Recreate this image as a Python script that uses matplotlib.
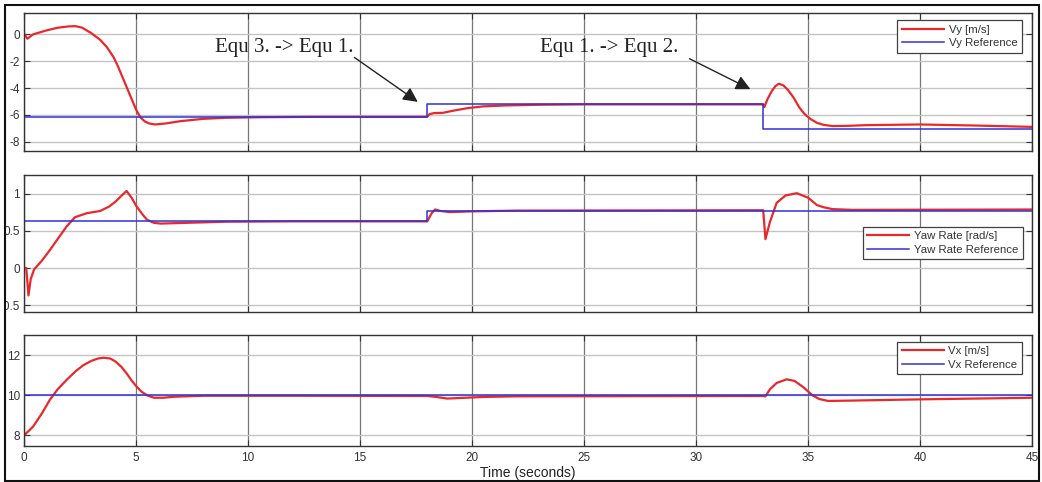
import matplotlib
matplotlib.use("Agg")
import matplotlib.pyplot as plt
from matplotlib.patches import Rectangle
from matplotlib.transforms import Bbox, TransformedBbox

plt.rcParams['font.family'] = ['Liberation Sans', 'DejaVu Sans']
plt.rcParams['axes.unicode_minus'] = False

# values
vy_t = [0, 0.15, 0.4, 1.0, 1.5, 2.0, 2.3, 2.6, 3.0, 3.4, 3.7, 4.0, 4.2, 4.4, 4.6, 4.8, 5.0, 5.2,
        5.4, 5.6, 5.85, 6.3, 7.0, 8.0, 9.0, 10.5, 13, 18.0, 18.1, 18.3, 18.7, 19.2, 19.8, 20.5,
        21.5, 23, 25, 33.0, 33.05, 33.2, 33.4, 33.55, 33.7, 33.9, 34.1, 34.35, 34.6, 34.85, 35.1,
        35.4, 35.7, 36.1, 36.8, 37.6, 40, 42.5, 45]
vy = [0.05, -0.32, 0.0, 0.3, 0.5, 0.6, 0.62, 0.5, 0.1, -0.4, -0.95, -1.7, -2.4, -3.2, -4.0, -4.8,
      -5.6, -6.2, -6.5, -6.65, -6.72, -6.65, -6.47, -6.3, -6.22, -6.18, -6.15, -6.15, -5.95, -5.87,
      -5.85, -5.68, -5.5, -5.37, -5.3, -5.25, -5.22, -5.22, -5.42, -4.8, -4.18, -3.85, -3.68, -3.8,
      -4.13, -4.7, -5.42, -5.95, -6.3, -6.6, -6.75, -6.84, -6.82, -6.77, -6.72, -6.8, -6.9]
vy_ref_t = [0, 18, 33, 45]
vy_ref = [-6.15, -5.22, -7.09, -7.09]

yaw_t = [0, 0.1, 0.2, 0.3, 0.45, 0.8, 1.15, 1.5, 1.9, 2.27, 2.8, 3.4, 3.8, 4.1, 4.4, 4.58, 4.8,
         5.03, 5.3, 5.5, 5.8, 6.1, 7.25, 9, 12, 18.0, 18.2, 18.35, 18.6, 19.0, 20, 22, 33.0, 33.1,
         33.3, 33.6, 34.0, 34.5, 35.0, 35.4, 35.7, 36.1, 37, 45]
yaw = [0.0, 0.0, -0.37, -0.15, -0.02, 0.1, 0.24, 0.39, 0.56, 0.685, 0.74, 0.77, 0.83, 0.9, 0.99,
       1.04, 0.95, 0.83, 0.72, 0.65, 0.61, 0.60, 0.61, 0.625, 0.63, 0.63, 0.74, 0.79, 0.77, 0.755,
       0.765, 0.775, 0.78, 0.39, 0.62, 0.88, 0.98, 1.01, 0.95, 0.85, 0.82, 0.795, 0.785, 0.79]
yaw_ref_t = [0, 18, 45]
yaw_ref = [0.63, 0.775, 0.775]

vx_t = [0, 0.4, 0.8, 1.15, 1.5, 1.9, 2.3, 2.64, 3.0, 3.3, 3.55, 3.85, 4.1, 4.35, 4.58, 4.8, 5.03,
        5.25, 5.5, 5.8, 6.2, 6.7, 8, 12, 18.0, 18.4, 18.9, 19.5, 20.5, 22, 33.0, 33.1, 33.3, 33.6,
        34.05, 34.4, 34.8, 35.2, 35.5, 35.9, 37, 40, 45]
vx = [8.0, 8.43, 9.1, 9.77, 10.3, 10.77, 11.2, 11.5, 11.72, 11.84, 11.88, 11.84, 11.68, 11.42,
      11.1, 10.75, 10.43, 10.18, 10.0, 9.88, 9.88, 9.93, 9.98, 9.98, 9.97, 9.92, 9.84, 9.87, 9.92,
      9.95, 9.97, 9.95, 10.3, 10.62, 10.8, 10.72, 10.4, 10.0, 9.82, 9.72, 9.74, 9.8, 9.88]
vx_ref_t = [0, 45]
vx_ref = [10, 10]

x_ticks = [0, 5, 10, 15, 20, 25, 30, 35, 40, 45]
vy_ticks = [-8, -6, -4, -2, 0]
yaw_ticks = [-0.5, 0, 0.5, 1]
yaw_tick_labels = ['-0.5', '0', '0.5', '1']
vx_ticks = [8, 10, 12]

RED = '#e8282c'
BLUE = '#3030d8'
W, H = 1042, 482

fig = plt.figure(figsize=(W / 100, H / 100), dpi=100)

def px_axes(left, top, right, bottom):
    return fig.add_axes([left / W, 1 - bottom / H, (right - left) / W, (bottom - top) / H])

ax1 = px_axes(24, 13, 1032, 151)
ax2 = px_axes(24, 174.7, 1032, 311.7)
ax3 = px_axes(24, 334.7, 1032, 446)

def style(ax, ylim, yticks, show_x):
    ax.set_xlim(0, 45)
    ax.set_ylim(*ylim)
    ax.set_xticks(x_ticks)
    ax.set_yticks(yticks)
    ax.grid(axis='x', color='#777777', lw=0.9)
    ax.grid(axis='y', color='#c4c4c4', lw=1.0)
    ax.set_axisbelow(True)
    ax.tick_params(direction='in', top=True, right=True, length=4, width=0.8,
                   labelsize=8.5, labelcolor='#333333', color='#333333', pad=3)
    ax.tick_params(axis='x', pad=4)
    if not show_x:
        ax.tick_params(labelbottom=False)
    for s in ax.spines.values():
        s.set_color('#333333')
        s.set_linewidth(1.0)

style(ax1, (-8.7, 1.6), vy_ticks, False)
style(ax2, (-0.59, 1.26), yaw_ticks, False)
ax2.set_yticklabels(yaw_tick_labels)
style(ax3, (7.47, 13.03), vx_ticks, True)

ax1.plot(vy_t, vy, color=RED, lw=1.6, label='Vy [m/s]')
ax1.plot(vy_ref_t, vy_ref, color=BLUE, lw=1.1, drawstyle='steps-post', label='Vy Reference')
ax2.plot(yaw_t, yaw, color=RED, lw=1.6, label='Yaw Rate [rad/s]')
ax2.plot(yaw_ref_t, yaw_ref, color=BLUE, lw=1.1, drawstyle='steps-post', label='Yaw Rate Reference')
ax3.plot(vx_t, vx, color=RED, lw=1.6, label='Vx [m/s]')
ax3.plot(vx_ref_t, vx_ref, color=BLUE, lw=1.1, label='Vx Reference')

for ax, anchor in [(ax1, (0.990, 0.949)), (ax2, (0.991, 0.620)), (ax3, (0.990, 0.937))]:
    leg = ax.legend(loc='upper right', bbox_to_anchor=anchor, borderaxespad=0, fontsize=8.2,
                    handlelength=3.7, handletextpad=0.4, labelspacing=0.3, borderpad=0.4,
                    fancybox=False, framealpha=1, edgecolor='#404040')
    leg.get_frame().set_linewidth(0.9)
    for txt in leg.get_texts():
        txt.set_color('#333333')

# annotations on the top panel
serif = ['Liberation Serif', 'DejaVu Serif']
ax1.text(14.7, -1.0, 'Equ 3. -> Equ 1.', family=serif, fontsize=15, ha='right', va='center',
         color='#222222')
ax1.annotate('', xy=(17.68, -5.15), xytext=(14.65, -1.6),
             arrowprops=dict(arrowstyle='-|>', color='#222222', lw=1.0, mutation_scale=22))
ax1.text(29.2, -1.0, 'Equ 1. -> Equ 2.', family=serif, fontsize=15, ha='right', va='center',
         color='#222222')
ax1.annotate('', xy=(32.54, -4.18), xytext=(29.6, -1.72),
             arrowprops=dict(arrowstyle='-|>', color='#222222', lw=1.0, mutation_scale=22))

fig.text(528 / W, 1 - 473 / H, 'Time (seconds)', ha='center', va='center', fontsize=10,
         color='#222222')

# outer frame, which also cuts off the minus sign of the lowest yaw label
fig.patches.append(Rectangle((5 / W, 1 / H), 1034 / W, 476 / H, transform=fig.transFigure,
                             fill=False, edgecolor='#111111', lw=1.5))
clip = TransformedBbox(Bbox([[6 / W, 0], [1, 1]]), fig.transFigure)
fig.canvas.draw()
for lab in ax2.get_yticklabels():
    lab.set_clip_box(clip)
    lab.set_clip_on(True)

fig.savefig('out.png', dpi=100)
